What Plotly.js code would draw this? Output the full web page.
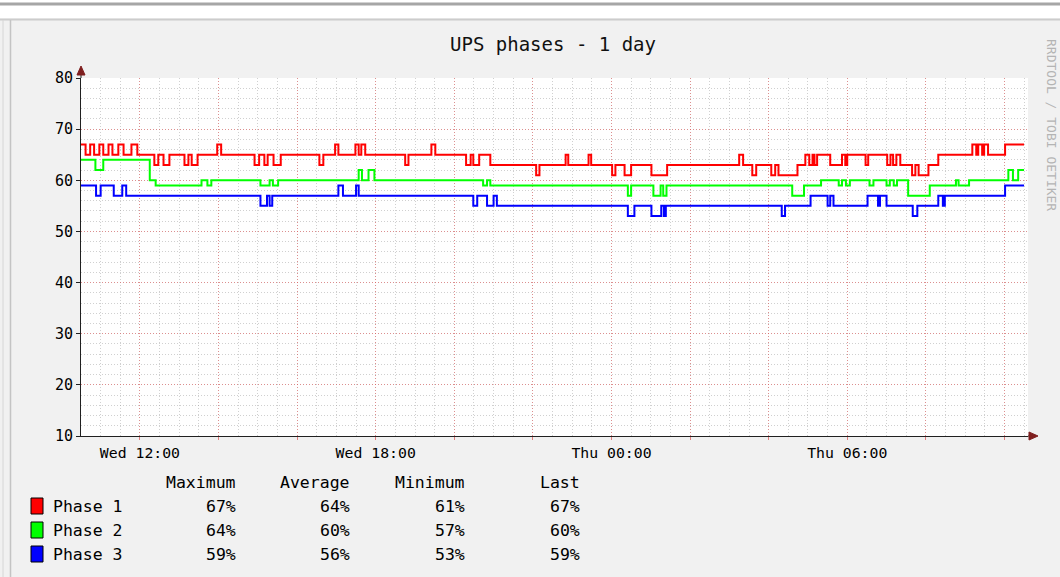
<!DOCTYPE html>
<html><head><meta charset="utf-8">
<script src="https://cdn.plot.ly/plotly-3.0.1.min.js"></script>
<style>html,body{margin:0;padding:0;background:#f1f1f1;}#chart{width:1060px;height:577px;}</style>
</head><body><div id="chart"></div>
<script>
// ---------- data ----------
const chartTitle = 'UPS phases - 1 day';
const seriesNames = ['Phase 1', 'Phase 2', 'Phase 3'];

const phase1Times = ['Wed 10:30','Wed 10:37','Wed 10:44','Wed 10:50','Wed 10:58','Wed 11:04','Wed 11:12','Wed 11:18','Wed 11:27','Wed 11:35','Wed 11:47','Wed 11:56','Wed 12:22','Wed 12:28','Wed 12:36','Wed 12:45','Wed 13:08','Wed 13:14','Wed 13:19','Wed 13:28','Wed 13:58','Wed 14:04','Wed 14:55','Wed 15:02','Wed 15:10','Wed 15:15','Wed 15:24','Wed 15:35','Wed 16:34','Wed 16:40','Wed 16:58','Wed 17:03','Wed 17:29','Wed 17:34','Wed 17:38','Wed 17:44','Wed 18:45','Wed 18:50','Wed 19:25','Wed 19:31','Wed 20:18','Wed 20:25','Wed 20:29','Wed 20:38','Wed 20:55','Wed 22:05','Wed 22:10','Wed 22:50','Wed 22:54','Wed 23:25','Wed 23:29','Thu 00:01','Thu 00:06','Thu 00:20','Thu 00:30','Thu 01:01','Thu 01:25','Thu 03:15','Thu 03:21','Thu 03:35','Thu 03:41','Thu 04:04','Thu 04:10','Thu 04:15','Thu 04:44','Thu 04:56','Thu 05:02','Thu 05:07','Thu 05:10','Thu 05:14','Thu 05:34','Thu 05:52','Thu 05:57','Thu 06:00','Thu 06:28','Thu 06:32','Thu 07:01','Thu 07:06','Thu 07:10','Thu 07:15','Thu 07:21','Thu 07:39','Thu 07:44','Thu 07:49','Thu 08:04','Thu 08:19','Thu 09:11','Thu 09:17','Thu 09:20','Thu 09:26','Thu 09:29','Thu 09:35','Thu 10:01','Thu 10:30'];
const phase1Values = [67,65,67,65,67,65,67,65,67,65,67,65,63,65,63,65,63,65,63,65,67,65,63,65,63,65,63,65,63,65,67,65,67,65,67,65,63,65,67,65,63,65,63,65,63,61,63,65,63,65,63,61,63,61,63,61,63,65,63,61,63,61,63,61,63,65,63,65,63,65,63,65,63,65,63,65,63,65,63,65,63,61,63,61,63,65,67,65,67,65,67,65,67,67];

const phase2Times = ['Wed 10:30','Wed 10:52','Wed 11:04','Wed 12:15','Wed 12:24','Wed 13:34','Wed 13:43','Wed 13:49','Wed 15:04','Wed 15:18','Wed 15:23','Wed 15:31','Wed 17:34','Wed 17:39','Wed 17:49','Wed 17:58','Wed 20:44','Wed 20:50','Wed 20:55','Thu 00:25','Thu 00:30','Thu 01:04','Thu 01:15','Thu 01:19','Thu 01:24','Thu 04:36','Thu 04:54','Thu 05:20','Thu 05:47','Thu 05:52','Thu 05:58','Thu 06:04','Thu 06:34','Thu 06:40','Thu 07:00','Thu 07:05','Thu 07:11','Thu 07:16','Thu 07:33','Thu 08:06','Thu 08:46','Thu 08:50','Thu 09:06','Thu 10:06','Thu 10:13','Thu 10:21','Thu 10:30'];
const phase2Values = [64,62,64,60,59,60,59,60,59,60,59,60,62,60,62,60,59,60,59,57,59,57,59,57,59,57,59,60,59,60,59,60,59,60,59,60,59,60,57,59,60,59,60,62,60,62,62];

const phase3Times = ['Wed 10:30','Wed 10:53','Wed 11:00','Wed 11:20','Wed 11:33','Wed 11:39','Wed 15:04','Wed 15:14','Wed 15:18','Wed 15:22','Wed 17:03','Wed 17:10','Wed 17:30','Wed 17:34','Wed 20:29','Wed 20:35','Wed 20:50','Wed 21:00','Wed 21:05','Thu 00:25','Thu 00:35','Thu 01:01','Thu 01:16','Thu 01:20','Thu 01:23','Thu 04:20','Thu 04:25','Thu 05:04','Thu 05:30','Thu 05:34','Thu 05:39','Thu 06:31','Thu 06:47','Thu 06:50','Thu 07:00','Thu 07:40','Thu 07:47','Thu 08:19','Thu 08:26','Thu 08:29','Thu 10:01','Thu 10:30'];
const phase3Values = [59,57,59,57,59,57,55,57,55,57,59,57,59,57,55,57,55,57,55,53,55,53,55,53,55,53,55,57,55,57,55,57,55,57,55,53,55,57,55,57,59,59];

const statHeaders = ['Maximum', 'Average', 'Minimum', 'Last'];
const maxValues  = [67, 64, 59];
const avgValues  = [64, 60, 56];
const minValues  = [61, 57, 53];
const lastValues = [67, 60, 59];

const xLabelTimes = ['Wed 12:00', 'Wed 18:00', 'Thu 00:00', 'Thu 06:00'];
const xLabelTexts = ['Wed 12:00', 'Wed 18:00', 'Thu 00:00', 'Thu 06:00'];
const yTickValues = [10, 20, 30, 40, 50, 60, 70, 80];
const watermark = 'RRDTOOL / TOBI OETIKER';

// ---------- helpers ----------
const toDate = s => (s.slice(0, 3) === 'Wed' ? '2024-01-03 ' : '2024-01-04 ') + s.slice(4);
const FONT = 'DejaVu Sans Mono';
const L = 81, R = 1028, T = 78, B = 436, W = 1060, H = 577;
const px = x => (x - L) / (R - L);
const py = y => (B - y) / (B - T);

const colors = ['#ff0000', '#00ff00', '#0000ff'];
const allTimes = [phase1Times, phase2Times, phase3Times];
const allValues = [phase1Values, phase2Values, phase3Values];

const traces = allValues.map((vals, i) => ({
  type: 'scatter', mode: 'lines', name: seriesNames[i],
  x: allTimes[i].map(toDate), y: vals,
  line: { shape: 'hv', color: colors[i], width: 2 },
  hoverinfo: 'skip'
}));

// major vertical grid every 2 hours
const gridTimes = [];
for (let h = 12; h <= 34; h += 2) {
  const day = h < 24 ? 'Wed' : 'Thu';
  gridTimes.push(day + ' ' + String(h % 24).padStart(2, '0') + ':00');
}
const gridTexts = gridTimes.map(t => { const i = xLabelTimes.indexOf(t); return i >= 0 ? xLabelTexts[i] : ''; });

const majorGrid = 'rgba(230,90,90,0.55)';
const minorGrid = 'rgba(150,150,150,0.45)';

const shapes = [];
const annotations = [];
// page frame
shapes.push({ type: 'rect', xref: 'paper', yref: 'paper', x0: px(0), x1: px(W), y0: py(0), y1: py(18.5), fillcolor: '#ffffff', line: { width: 0 } });
shapes.push({ type: 'line', xref: 'paper', yref: 'paper', x0: px(0), x1: px(W), y0: py(4), y1: py(4), line: { color: '#a6a6a6', width: 3 } });
shapes.push({ type: 'line', xref: 'paper', yref: 'paper', x0: px(0), x1: px(W), y0: py(19.5), y1: py(19.5), line: { color: '#cccccc', width: 2 } });
shapes.push({ type: 'line', xref: 'paper', yref: 'paper', x0: px(10.5), x1: px(10.5), y0: py(20), y1: py(H), line: { color: '#c4c4c4', width: 1.5 } });
shapes.push({ type: 'line', xref: 'paper', yref: 'paper', x0: px(3), x1: px(3), y0: py(20), y1: py(H), line: { color: '#d6d6d6', width: 1 } });
// axis extensions and arrows
shapes.push({ type: 'line', xref: 'paper', yref: 'paper', x0: 0, x1: 0, y0: py(74), y1: 1, line: { color: '#202020', width: 1 } });
shapes.push({ type: 'path', xref: 'paper', yref: 'paper',
  path: `M ${px(77)},${py(75)} L ${px(81)},${py(66)} L ${px(85)},${py(75)} Z`, fillcolor: '#7f1f1f', line: { color: '#7f1f1f', width: 1 } });
shapes.push({ type: 'line', xref: 'paper', yref: 'paper', x0: 1, x1: px(1030), y0: 0, y1: 0, line: { color: '#202020', width: 1 } });
shapes.push({ type: 'path', xref: 'paper', yref: 'paper',
  path: `M ${px(1029)},${py(432)} L ${px(1038)},${py(436)} L ${px(1029)},${py(440)} Z`, fillcolor: '#7f1f1f', line: { color: '#7f1f1f', width: 1 } });

// legend block
const headerRight = [237, 351, 466, 581];
const rowY = [506, 530, 554];
statHeaders.forEach((h, j) => annotations.push({ xref: 'paper', yref: 'paper', x: px(headerRight[j] + 1), y: py(482), xanchor: 'right', yanchor: 'middle', text: h, showarrow: false, font: { family: FONT, size: 16.5, color: '#000' } }));
const stats = [maxValues, avgValues, minValues, lastValues];
seriesNames.forEach((name, i) => {
  shapes.push({ type: 'rect', xref: 'paper', yref: 'paper', x0: px(31), x1: px(43), y0: py(rowY[i] - 8), y1: py(rowY[i] + 8), fillcolor: colors[i], line: { color: '#000', width: 1 } });
  annotations.push({ xref: 'paper', yref: 'paper', x: px(51), y: py(rowY[i]), xanchor: 'left', yanchor: 'middle', text: name, showarrow: false, font: { family: FONT, size: 16.5, color: '#000' } });
  stats.forEach((arr, j) => annotations.push({ xref: 'paper', yref: 'paper', x: px(headerRight[j] + 1), y: py(rowY[i]), xanchor: 'right', yanchor: 'middle', text: arr[i] + '%', showarrow: false, font: { family: FONT, size: 16.5, color: '#000' } }));
});
annotations.push({ xref: 'paper', yref: 'paper', x: px(1051), y: py(125), xanchor: 'center', yanchor: 'middle', text: watermark, textangle: 90, borderpad: 0, showarrow: false, font: { family: FONT, size: 13, color: '#b4b4b4' } });

const layout = {
  width: W, height: H,
  margin: { l: L, r: W - R, t: T, b: H - B, pad: 0 },
  paper_bgcolor: '#f1f1f1', plot_bgcolor: '#ffffff',
  showlegend: false, hovermode: false,
  font: { family: FONT, color: '#000' },
  title: { text: chartTitle, font: { family: FONT, size: 19, color: '#111' }, x: 553 / W, xref: 'container', xanchor: 'center', y: 1 - 44 / H, yref: 'container', yanchor: 'middle' },
  xaxis: {
    type: 'date', range: ['2024-01-03 10:30', '2024-01-04 10:36'],
    tickmode: 'array', tickvals: gridTimes.map(toDate), ticktext: gridTexts,
    showgrid: true, gridcolor: majorGrid, griddash: '1px,2px', gridwidth: 1,
    minor: { tickmode: 'linear', tick0: '2024-01-03 00:00', dtick: 1800000, showgrid: true, gridcolor: minorGrid, griddash: '1px,2px', gridwidth: 1, ticks: '' },
    ticks: 'outside', ticklen: 3, tickcolor: '#e08080',
    showline: true, linecolor: '#202020', linewidth: 1, zeroline: false,
    tickfont: { family: FONT, size: 14.8, color: '#000' }, fixedrange: true
  },
  yaxis: {
    range: [10, 80], tickmode: 'array', tickvals: yTickValues,
    showgrid: true, gridcolor: majorGrid, griddash: '1px,2px', gridwidth: 1,
    minor: { tickmode: 'linear', tick0: 0, dtick: 2, showgrid: true, gridcolor: minorGrid, griddash: '1px,2px', gridwidth: 1, ticks: '' },
    ticks: 'outside', ticklen: 4, tickcolor: '#202020',
    showline: true, linecolor: '#202020', linewidth: 1, zeroline: false,
    tickfont: { family: FONT, size: 15, color: '#000' }, fixedrange: true
  },
  shapes: shapes, annotations: annotations
};

Plotly.newPlot('chart', traces, layout, { displayModeBar: false, staticPlot: true });
</script>
</body></html>
